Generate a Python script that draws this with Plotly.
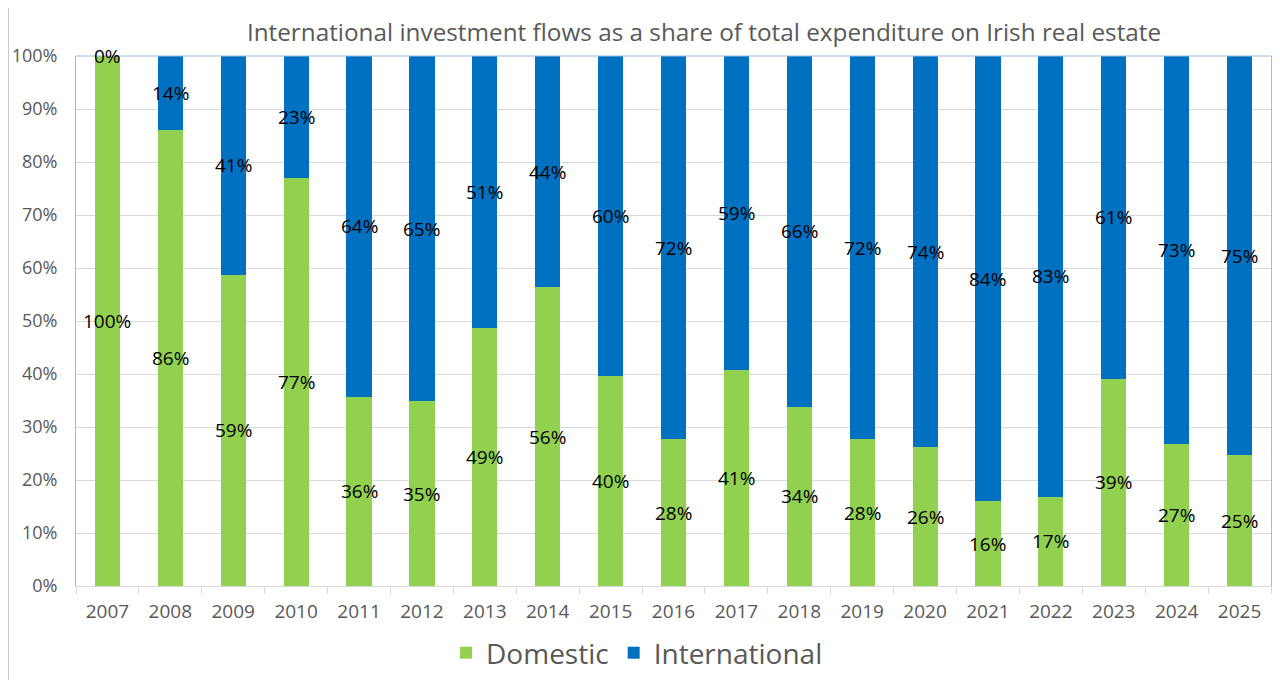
import plotly.graph_objects as go

years = [str(y) for y in range(2007, 2026)]
domestic = [100.0, 86.0, 58.7, 77.0, 35.7, 34.9, 48.7, 56.4, 39.6, 27.7, 40.8, 33.8, 27.7, 26.2, 16.0, 16.8, 39.1, 26.8, 24.7]
international = [100.0 - d for d in domestic]
y_ticks = list(range(0, 101, 10))
y_tick_labels = [f"{v}%" for v in y_ticks]

title = "International investment flows as a share of total expenditure on Irish real estate"
font_family = "Open Sans, Liberation Sans, sans-serif"
GREEN = "#92D050"
BLUE = "#0070C0"
GRAY = "#595959"

fig = go.Figure()
fig.add_trace(go.Bar(name="Domestic", x=years, y=domestic, marker=dict(color=GREEN, line=dict(width=0))))
fig.add_trace(go.Bar(name="International", x=years, y=international, marker=dict(color=BLUE, line=dict(width=0))))

annotations = []
for idx, (d, i) in enumerate(zip(domestic, international)):
    annotations.append(dict(x=idx, y=d / 2, text=f"{round(d):.0f}%", showarrow=False,
                            font=dict(size=19, color="black", family=font_family), xref="x", yref="y"))
    annotations.append(dict(x=idx, y=d + i / 2, text=f"{round(i):.0f}%", showarrow=False,
                            font=dict(size=19, color="black", family=font_family), xref="x", yref="y"))

# page body adds an 8px offset; margins compensate so the plot lands at the reference position
L, T, PW, PH = 68, 48, 1195, 530
fig.update_layout(
    barmode="stack",
    bargap=0.6,
    width=1280, height=680,
    margin=dict(l=L, r=1280 - L - PW, t=T, b=680 - T - PH, autoexpand=False),
    paper_bgcolor="white", plot_bgcolor="white",
    title=dict(text=title, x=696 / 1280, xanchor="center", y=1 - 24 / 680, yref="container", yanchor="middle",
               font=dict(size=24.3, color=GRAY, family=font_family)),
    legend=dict(orientation="h", x=0.4695, xanchor="center", y=-(645 - (T + PH)) / PH, yanchor="middle",
                font=dict(size=28, color=GRAY, family=font_family), itemwidth=30,
                traceorder="normal"),
    annotations=annotations,
    xaxis=dict(type="category", showline=True, linecolor="#D9D9D9", linewidth=1, ticks="outside",
               tickson="boundaries", ticklen=7, tickcolor="#D9D9D9", tickangle=0,
               ticklabelstandoff=8,
               tickfont=dict(size=19, color=GRAY, family=font_family), showgrid=False),
    yaxis=dict(range=[0, 100], tickmode="array", tickvals=y_ticks, ticktext=y_tick_labels,
               showgrid=True, gridcolor="#D9D9D9", gridwidth=1,
               showline=True, linecolor="#9DBCE6", linewidth=1, mirror=True,
               ticklabelstandoff=14,
               tickfont=dict(size=18, color=GRAY, family=font_family), zeroline=False),
    shapes=[
        dict(type="line", xref="paper", yref="paper", x0=0, x1=1, y0=1, y1=1,
             line=dict(color="#9DBCE6", width=1)),
        dict(type="line", xref="paper", yref="paper", x0=-(L - 0.5) / PW, x1=-(L - 0.5) / PW,
             y0=-(680 - T - PH) / PH, y1=1 + T / PH, line=dict(color="#C8C8C8", width=1)),
        dict(type="line", xref="paper", yref="paper", x0=1 + 7 / PW, x1=1 + 7 / PW,
             y0=-(680 - T - PH) / PH, y1=1 + T / PH, line=dict(color="#C8C8C8", width=1)),
    ],
)

fig.write_html("out.html")
